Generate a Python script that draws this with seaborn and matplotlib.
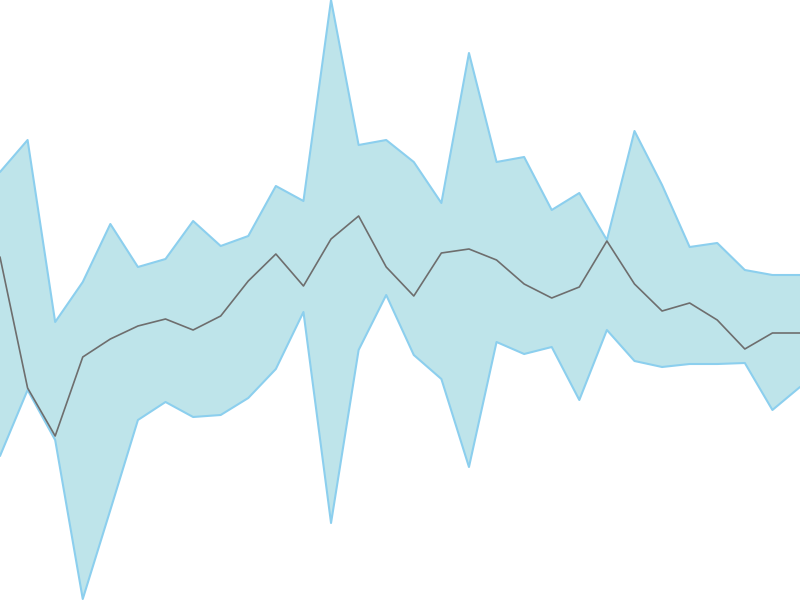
import numpy as np
import pandas as pd
import matplotlib
matplotlib.use("Agg")
import matplotlib.pyplot as plt
import seaborn as sns

# values (pixel rows flipped: value = 600 - y)
steps = list(range(30))
upper = [428, 460, 278, 318, 376, 333, 341, 379, 354, 364, 414, 399, 600, 455, 460,
         438, 397, 547, 438, 443, 390, 407, 360, 469, 415, 353, 357, 330, 325, 325]
middle = [343, 212, 164, 243, 261, 274, 281, 270, 284, 319, 346, 314, 361, 384, 333,
          304, 347, 351, 340, 316, 302, 313, 359, 316, 289, 297, 280, 251, 267, 267]
lower = [144, 210, 160, 1, 90, 180, 198, 183, 185, 202, 231, 288, 77, 250, 305,
         245, 221, 133, 258, 246, 253, 200, 270, 239, 233, 236, 236, 237, 190, 213]

df = pd.DataFrame({"step": steps, "upper": upper, "middle": middle, "lower": lower})

sns.set_style("white")
fig = plt.figure(figsize=(8, 6), dpi=100)
ax = fig.add_axes([0, 0, 1, 1])

ax.fill_between(df["step"], df["lower"], df["upper"], color="#bee4ea", linewidth=0)
sns.lineplot(data=df, x="step", y="upper", ax=ax, color="#8ccfee", linewidth=1.5)
sns.lineplot(data=df, x="step", y="lower", ax=ax, color="#8ccfee", linewidth=1.5)
sns.lineplot(data=df, x="step", y="middle", ax=ax, color="#6e6e6e", linewidth=1.2)

ax.set_xlim(0, 29)
ax.set_ylim(0, 600)
ax.axis("off")

fig.savefig("out.png", dpi=100)
plt.close(fig)
